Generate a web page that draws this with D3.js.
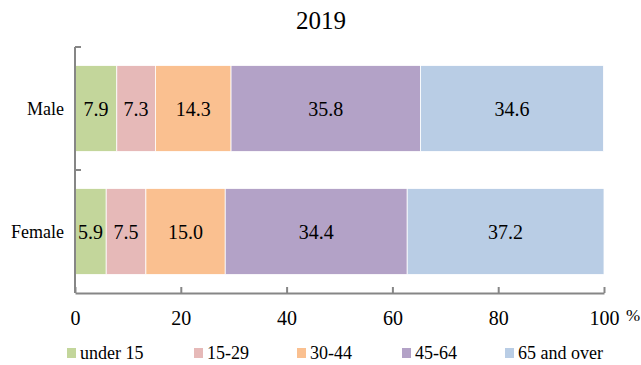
<!DOCTYPE html>
<html>
<head>
<meta charset="utf-8">
<script src="https://cdn.jsdelivr.net/npm/d3@7/dist/d3.min.js"></script>
<style>
  html, body { margin: 0; padding: 0; background: #fff; }
  svg { display: block; }
  svg text { font-family: "Liberation Serif", "Times New Roman", Times, serif; }
</style>
</head>
<body>
<svg id="chart" width="641" height="365"></svg>
<script>
// Age composition (%) by sex, 2019
const title = "2019";
const categories = ["Male", "Female"];
const groups = ["under 15", "15-29", "30-44", "45-64", "65 and over"];
const maleValues = [7.9, 7.3, 14.3, 35.8, 34.6];
const femaleValues = [5.9, 7.5, 15.0, 34.4, 37.2];
const xTicks = [0, 20, 40, 60, 80, 100];
const colors = ["#c3d69b", "#e6b9b8", "#fac090", "#b3a2c7", "#b9cde5"];

const seriesByCategory = { "Male": maleValues, "Female": femaleValues };
const serif = "Liberation Serif";

const svg = d3.select("#chart");
const axisColor = "#868686";

const plotTop = 47, plotBottom = 293;
const x = d3.scaleLinear().domain([0, 100]).range([75, 604]);
const y = d3.scaleBand().domain(categories).range([plotTop, plotBottom]).paddingInner(0.3).paddingOuter(0.15);
const yEdges = d3.scaleBand().domain(categories).range([plotTop, plotBottom]);

// Title
svg.append("text")
  .attr("x", 321).attr("y", 29)
  .attr("text-anchor", "middle")
  .attr("font-family", serif)
  .attr("font-size", 25)
  .attr("fill", "#000")
  .text(title);

// Stacked segments with value labels
categories.forEach(cat => {
  const vals = seriesByCategory[cat];
  let acc = 0;
  const g = svg.append("g");
  vals.forEach((v, i) => {
    const x0 = acc, x1 = acc + v;
    acc = x1;
    g.append("rect")
      .attr("x", x(x0)).attr("y", y(cat))
      .attr("width", x(x1) - x(x0)).attr("height", y.bandwidth())
      .attr("fill", colors[i])
      .attr("stroke", "#fff").attr("stroke-width", 0.8);
    g.append("text")
      .attr("x", (x(x0) + x(x1)) / 2)
      .attr("y", y(cat) + y.bandwidth() / 2)
      .attr("dy", "0.35em")
      .attr("text-anchor", "middle")
      .attr("font-family", serif)
      .attr("font-size", 20)
      .attr("fill", "#000")
      .text(v.toFixed(1));
  });
});

// Y axis: line with inward ticks at band boundaries
const yAxisG = svg.append("g");
yAxisG.append("line")
  .attr("x1", x(0)).attr("x2", x(0))
  .attr("y1", plotTop).attr("y2", plotBottom)
  .attr("stroke", axisColor).attr("stroke-width", 2);
categories.map(c => yEdges(c)).forEach(b => {
  yAxisG.append("line")
    .attr("x1", x(0)).attr("x2", x(0) + 6)
    .attr("y1", b).attr("y2", b)
    .attr("stroke", axisColor).attr("stroke-width", 2);
});
categories.forEach(cat => {
  yAxisG.append("text")
    .attr("x", x(0) - 11)
    .attr("y", y(cat) + y.bandwidth() / 2)
    .attr("dy", "0.35em")
    .attr("text-anchor", "end")
    .attr("font-family", serif)
    .attr("font-size", 18)
    .attr("fill", "#000")
    .text(cat);
});

// X axis with inward ticks
const xAxis = d3.axisBottom(x).tickValues(xTicks).tickSize(-6).tickSizeOuter(0).tickFormat(d3.format("d"));
const xg = svg.append("g").attr("transform", `translate(0,${plotBottom})`).call(xAxis);
xg.attr("font-family", serif);
xg.select(".domain").attr("stroke", axisColor).attr("stroke-width", 2);
xg.selectAll(".tick line").attr("stroke", axisColor).attr("stroke-width", 2);
xg.selectAll(".tick text")
  .attr("y", 32).attr("dy", null)
  .attr("font-family", serif)
  .attr("font-size", 20)
  .attr("fill", "#000");
svg.append("text")
  .attr("x", 626).attr("y", 321)
  .attr("font-family", serif)
  .attr("font-size", 17).attr("fill", "#000")
  .text("%");

// Legend
const legendX = [67, 194, 297, 402, 505];
const legend = svg.append("g");
groups.forEach((name, i) => {
  legend.append("rect")
    .attr("x", legendX[i]).attr("y", 348)
    .attr("width", 9).attr("height", 10)
    .attr("fill", colors[i]);
  legend.append("text")
    .attr("x", legendX[i] + 13).attr("y", 359)
    .attr("font-family", serif)
    .attr("font-size", 18).attr("fill", "#000")
    .text(name);
});
</script>
</body>
</html>
